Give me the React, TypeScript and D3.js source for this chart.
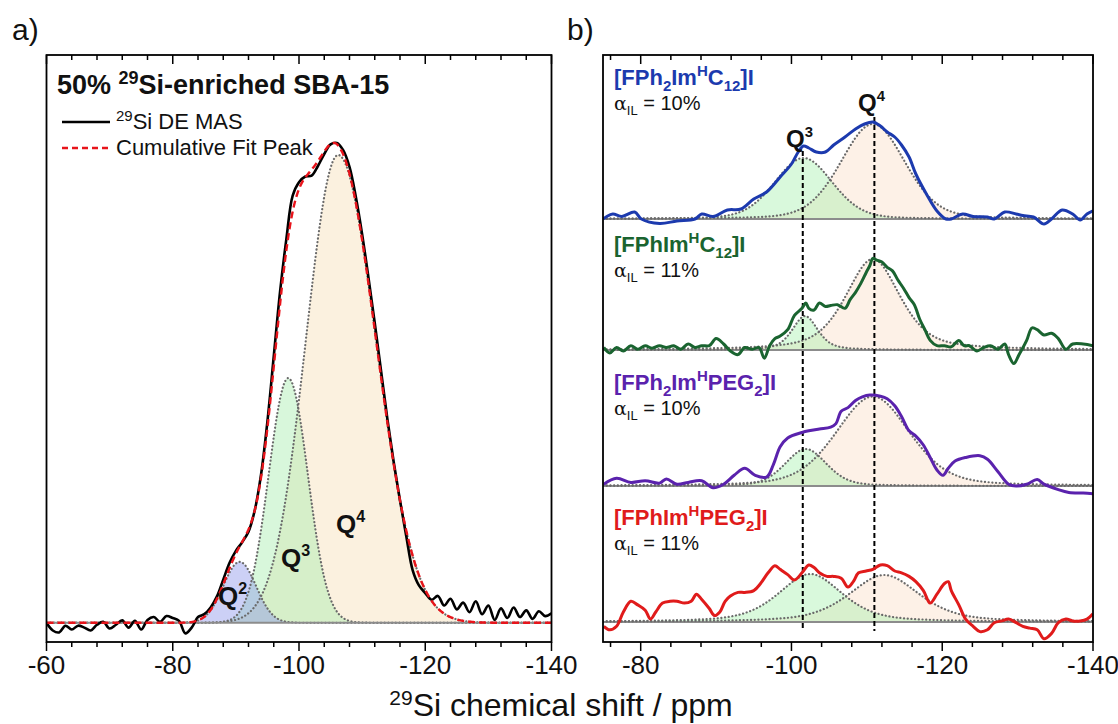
import React from 'react';
import * as d3 from 'd3';

const W = 1118;
const H = 724;
const FONT = "Arial, 'Liberation Sans', Helvetica, sans-serif";

// ---------- panel a data ----------
const shiftGridA = d3.range(-60, -140.5, -1);
const spectrumA = [
  0.0, -0.016, -0.02, -0.006, -0.014, -0.006, -0.01, -0.016, -0.004, 0.002,
  -0.012, -0.004, 0.005, -0.01, 0.004, -0.014, 0.006, 0.012, 0.002, 0.014,
  0.01, 0.004, -0.022, -0.01, 0.012, 0.018, 0.032, 0.055, 0.09, 0.125,
  0.15, 0.168, 0.19, 0.235, 0.31, 0.42, 0.555, 0.69, 0.8, 0.89,
  0.918, 0.93, 0.932, 0.952, 0.977, 0.997, 1.0, 0.985, 0.95, 0.888,
  0.81, 0.72, 0.625, 0.525, 0.425, 0.335, 0.255, 0.18, 0.11, 0.078,
  0.062, 0.048, 0.056, 0.036, 0.05, 0.028, 0.042, 0.022, 0.045, 0.018,
  0.036, 0.006, 0.03, 0.01, 0.032, 0.012, 0.026, 0.008, 0.024, 0.014, 0.02,
];
const peakNamesA = ['Q2', 'Q3', 'Q4'];
const peakCenterA = [-90.6, -98.3, -106.2];
const peakHeightA = [0.127, 0.51, 0.975];
const peakFwhmLeftA = [6.1, 7.3, 12.0];
const peakFwhmRightA = [6.1, 7.3, 14.1];
const peakFillA = ['#8f97ec', '#a8eeb0', '#f8e6c4'];
const peakFillOpA = [0.45, 0.45, 0.55];
const ticksLabelsA = [-60, -80, -100, -120, -140];

// ---------- panel b data ----------
const sampleLabelsB = ['FPh2ImHC12', 'FPhImHC12', 'FPh2ImHPEG2', 'FPhImHPEG2'];
const alphaB = ['10%', '11%', '10%', '11%'];
const colorsB = ['#1c3aae', '#1a6430', '#5a22ad', '#e01b1b'];
const offsetsB = [4.03, 2.72, 1.36, 0];

const blueShift = [-75, -75.4, -76.3, -77.5, -79.2, -80.1, -82.5, -84.8, -87.2, -88.1, -89.6, -91.5, -93.3, -95.0, -96.7, -98.5, -100.0, -100.9, -101.6, -102.3, -103.3, -104.5, -105.6, -107.1, -108.5, -109.7, -110.8, -111.8, -112.7, -113.7, -114.6, -115.6, -116.5, -117.9, -119.3, -120.5, -121.2, -122.7, -124.1, -126.0, -126.9, -128.3, -129.8, -130.7, -132.1, -133.5, -134.5, -135.9, -137.3, -138.3, -139.2, -140];
const blueInt = [0.0, 0.02, 0.05, 0.025, 0.07, 0.0, -0.045, -0.02, 0.0, 0.05, 0.025, 0.09, 0.1, 0.2, 0.27, 0.42, 0.55, 0.67, 0.73, 0.71, 0.67, 0.67, 0.74, 0.82, 0.9, 0.95, 0.97, 0.93, 0.87, 0.82, 0.74, 0.62, 0.45, 0.25, 0.08, 0.0, 0.0, 0.05, 0.025, 0.02, 0.0, 0.07, 0.05, 0.035, 0.02, -0.05, 0.0, 0.09, 0.05, -0.01, 0.05, 0.08];

const greenShift = [-75.1, -75.9, -76.8, -77.7, -78.7, -79.6, -80.6, -81.5, -82.5, -83.4, -84.4, -85.3, -86.3, -87.2, -88.1, -89.1, -90.0, -91.0, -91.9, -92.9, -93.8, -94.8, -95.7, -96.4, -97.1, -97.8, -98.5, -99.5, -100.4, -101.4, -101.9, -102.3, -103.0, -103.7, -104.5, -105.2, -106.1, -107.1, -107.8, -108.5, -109.2, -109.9, -110.4, -110.8, -111.3, -112.0, -112.7, -113.4, -114.1, -114.9, -115.6, -116.3, -117.0, -117.7, -118.4, -119.3, -120.3, -121.2, -122.2, -122.9, -123.6, -124.6, -125.5, -126.4, -127.4, -128.3, -128.8, -129.5, -130.2, -131.2, -131.9, -132.6, -133.5, -134.5, -135.4, -136.4, -137.3, -138.7, -140];
const greenInt = [0.025, -0.03, 0.025, -0.01, 0.043, 0.007, 0.043, 0.018, 0.043, 0.025, 0.043, 0.007, 0.06, 0.025, 0.043, 0.043, 0.114, 0.06, -0.01, -0.046, 0.025, 0.007, 0.025, -0.082, 0.043, 0.114, 0.139, 0.203, 0.346, 0.417, 0.47, 0.417, 0.4, 0.47, 0.435, 0.445, 0.453, 0.417, 0.506, 0.577, 0.666, 0.773, 0.845, 0.916, 0.898, 0.88, 0.827, 0.791, 0.702, 0.613, 0.524, 0.453, 0.31, 0.203, 0.096, 0.043, 0.043, 0.032, 0.096, 0.043, 0.043, -0.01, 0.025, 0.043, 0.007, 0.06, -0.046, -0.135, -0.046, 0.096, 0.22, 0.203, 0.15, 0.167, 0.114, 0.007, 0.06, 0.06, 0.043];

const purpleShift = [-75.1, -76.8, -78.7, -80.6, -82.5, -83.4, -84.8, -86.3, -88.1, -89.6, -91.0, -92.4, -93.8, -95.2, -96.7, -97.6, -98.5, -99.5, -101.4, -102.3, -103.7, -105.2, -105.9, -106.6, -107.5, -108.5, -109.4, -110.4, -111.8, -112.7, -113.7, -114.6, -115.6, -116.5, -117.5, -118.4, -119.3, -120.1, -120.8, -121.7, -123.1, -125.0, -126.0, -127.4, -128.8, -129.8, -131.2, -132.6, -133.5, -135.4, -136.8, -138.7, -140];
const purpleInt = [0.018, 0.078, 0.036, 0.053, 0.029, 0.071, 0.018, 0.036, 0.053, -0.018, 0.018, 0.107, 0.178, 0.107, 0.089, 0.214, 0.392, 0.481, 0.535, 0.552, 0.57, 0.588, 0.624, 0.748, 0.784, 0.855, 0.891, 0.909, 0.898, 0.873, 0.802, 0.695, 0.552, 0.499, 0.41, 0.285, 0.16, 0.107, 0.178, 0.249, 0.285, 0.303, 0.267, 0.143, 0.018, 0.0, 0.018, 0.064, 0.018, -0.036, -0.064, -0.071, -0.078];

const redShift = [-75.1, -75.9, -76.8, -77.7, -78.7, -79.6, -80.6, -81.3, -82.0, -82.9, -83.9, -84.8, -85.8, -86.7, -87.4, -88.1, -89.1, -89.8, -90.5, -91.2, -91.9, -92.9, -93.8, -95.0, -95.9, -96.9, -97.8, -98.5, -99.5, -100.4, -101.4, -102.3, -103.0, -103.7, -104.7, -105.6, -106.6, -107.5, -108.2, -108.9, -109.9, -110.8, -111.8, -112.7, -113.7, -114.6, -115.6, -116.5, -117.5, -118.4, -119.3, -120.3, -120.8, -121.2, -122.2, -123.1, -124.1, -125.0, -126.0, -126.9, -127.9, -128.8, -129.8, -130.7, -131.6, -132.6, -133.5, -134.5, -135.4, -136.4, -137.3, -138.3, -139.2, -140];
const redInt = [-0.043, -0.078, -0.043, 0.1, 0.207, 0.171, 0.118, 0.029, 0.1, 0.189, 0.207, 0.207, 0.189, 0.207, 0.278, 0.225, 0.135, 0.064, 0.1, 0.207, 0.26, 0.296, 0.296, 0.314, 0.385, 0.492, 0.563, 0.527, 0.474, 0.42, 0.492, 0.57, 0.545, 0.492, 0.456, 0.456, 0.438, 0.349, 0.403, 0.492, 0.51, 0.527, 0.57, 0.563, 0.51, 0.492, 0.456, 0.403, 0.314, 0.189, 0.278, 0.385, 0.403, 0.314, 0.171, 0.029, -0.043, -0.096, -0.078, -0.007, 0.011, 0.029, -0.007, -0.043, -0.061, -0.078, -0.168, -0.114, -0.007, 0.029, 0.011, 0.011, 0.029, 0.082];

const shiftsB = [blueShift, greenShift, purpleShift, redShift];
const intsB = [blueInt, greenInt, purpleInt, redInt];

const q3CenterB = [-101.6, -101.8, -101.9, -102.5];
const q3HeightB = [0.61, 0.34, 0.37, 0.48];
const q3FwhmB = [9, 4, 6.5, 10];
const q4CenterB = [-110.8, -110.8, -110.8, -112.3];
const q4HeightB = [0.95, 0.91, 0.895, 0.47];
const q4FwhmB = [10, 8.5, 11.5, 11];
const lorentzFracB = [0.2, 0.5, 0.3, 0.5];
const refLinesB = [-101.5, -111];
const ticksLabelsB = [-80, -100, -120, -140];

// ---------- geometry ----------
const A = { x0: 46.5, x1: 551.5, y0: 55, y1: 642 };
const B = { x0: 603, x1: 1093, y0: 55, y1: 642 };

const xA = d3.scaleLinear().domain([-60, -140]).range([A.x0, A.x1]);
const yA = d3.scaleLinear().domain([-0.04, 1.1833]).range([A.y1, A.y0]);
const xB = d3.scaleLinear().domain([-75, -140]).range([B.x0, B.x1]);
const yB = d3.scaleLinear().domain([-0.2, 5.67]).range([B.y1, B.y0]);

const LN2x4 = 4 * Math.log(2);
function splitGauss(p: number, c: number, h: number, fl: number, fr: number) {
  const f = p > c ? fl : fr;
  const d = (p - c) / f;
  return h * Math.exp(-LN2x4 * d * d);
}
function pvoigt(p: number, c: number, h: number, fw: number, eta: number) {
  const d = (p - c) / fw;
  const g = Math.exp(-LN2x4 * d * d);
  const l = 1 / (1 + 4 * d * d);
  return h * (eta * l + (1 - eta) * g);
}

const fineA = d3.range(-60, -140.01, -0.2);
const fineB = d3.range(-75, -140.01, -0.2);

function Ticks({ x, y0, y1, values, majors }: any) {
  return (
    <g stroke="#000" strokeWidth={1.5}>
      {values.map((v: number) => {
        const major = majors.includes(v);
        const len = major ? 9 : 5;
        const px = x(v);
        return (
          <g key={v}>
            <line x1={px} x2={px} y1={y1} y2={y1 + len} />
            <line x1={px} x2={px} y1={y0} y2={y0 + len} />
          </g>
        );
      })}
    </g>
  );
}

function SampleLabel({ name, x, y, color }: any) {
  const parts: Record<string, any[]> = {
    FPh2ImHC12: [['[FPh'], ['2', 'sub'], ['Im'], ['H', 'sup'], ['C'], ['12', 'sub'], [']I']],
    FPhImHC12: [['[FPhIm'], ['H', 'sup'], ['C'], ['12', 'sub'], [']I']],
    FPh2ImHPEG2: [['[FPh'], ['2', 'sub'], ['Im'], ['H', 'sup'], ['PEG'], ['2', 'sub'], [']I']],
    FPhImHPEG2: [['[FPhIm'], ['H', 'sup'], ['PEG'], ['2', 'sub'], [']I']],
  };
  let cur = 0;
  const spans = parts[name].map((p: any[], i: number) => {
    const target = p[1] === 'sub' ? 6 : p[1] === 'sup' ? -9 : 0;
    const dy = target - cur;
    cur = target;
    return (
      <tspan key={i} dy={dy} fontSize={p[1] ? 15 : 22}>
        {p[0]}
      </tspan>
    );
  });
  return (
    <text x={x} y={y} fill={color} fontWeight="bold" fontFamily={FONT}>
      {spans}
    </text>
  );
}

function AlphaLabel({ value, x, y }: any) {
  return (
    <text x={x} y={y} fontFamily={FONT} fontSize={20} fill="#111">
      <tspan fontFamily="'DejaVu Serif', serif" fontSize={19}>α</tspan>
      <tspan dy={5} fontSize={13}>IL</tspan>
      <tspan dy={-5}>{` = ${value}`}</tspan>
    </text>
  );
}

function QLabel({ n, x, y, size }: any) {
  return (
    <text x={x} y={y} fontFamily={FONT} fontWeight="bold" fontSize={size} fill="#111">
      Q<tspan dy={-size * 0.42} fontSize={size * 0.62}>{n}</tspan>
    </text>
  );
}

export default function App() {
  const compsA = peakNamesA.map((_, i) =>
    fineA.map((p) => [p, splitGauss(p, peakCenterA[i], peakHeightA[i], peakFwhmLeftA[i], peakFwhmRightA[i])])
  );
  const cumA = fineA.map((p, k) => [p, compsA.reduce((s, c) => s + (c[k][1] as number), 0)]);
  const lineA = d3.line<any>().x((d) => xA(d[0])).y((d) => yA(d[1]));
  const areaA = d3.area<any>().x((d) => xA(d[0])).y0(yA(0)).y1((d) => yA(d[1]));
  const specLineA = d3
    .line<number>()
    .x((_, i) => xA(shiftGridA[i]))
    .y((d) => yA(d))
    .curve(d3.curveCatmullRom.alpha(0.5));

  const ticksA = d3.range(-60, -140.5, -4);
  const ticksB = d3.range(-76, -140.5, -4);

  const dotStyle = { stroke: '#6a6a6a', strokeWidth: 2.2, strokeDasharray: '0.1 3.6', strokeLinecap: 'round' as const, fill: 'none' };

  return (
    <svg width={W} height={H} style={{ position: 'absolute', left: 0, top: 0, background: '#fff' }} fontFamily={FONT}>
      <defs>
        <clipPath id="clipA">
          <rect x={A.x0} y={A.y0} width={A.x1 - A.x0} height={A.y1 - A.y0} />
        </clipPath>
        <clipPath id="clipB">
          <rect x={B.x0} y={B.y0} width={B.x1 - B.x0} height={B.y1 - B.y0} />
        </clipPath>
      </defs>
      <rect x={0} y={0} width={W} height={H} fill="#fff" />

      {/* ---------------- panel a ---------------- */}
      <g clipPath="url(#clipA)">
        {[2, 1, 0].map((i) => (
          <path key={'fa' + i} d={areaA(compsA[i]) || ''} fill={peakFillA[i]} fillOpacity={peakFillOpA[i]} />
        ))}
        {[0, 1, 2].map((i) => (
          <path key={'la' + i} d={lineA(compsA[i]) || ''} {...dotStyle} />
        ))}
        <line x1={A.x0} x2={A.x1} y1={yA(0)} y2={yA(0)} stroke="#8c8c8c" strokeWidth={2} />
        <path d={specLineA(spectrumA) || ''} fill="none" stroke="#000" strokeWidth={2.6} strokeLinejoin="round" />
        <path d={lineA(cumA) || ''} fill="none" stroke="#e8141b" strokeWidth={2.4} strokeDasharray="7 4" />
      </g>
      <rect x={A.x0} y={A.y0} width={A.x1 - A.x0} height={A.y1 - A.y0} fill="none" stroke="#000" strokeWidth={1.8} />
      <Ticks x={xA} y0={A.y0} y1={A.y1} values={ticksA} majors={ticksLabelsA} />
      {ticksLabelsA.map((v) => (
        <text key={v} x={xA(v)} y={674} textAnchor="middle" fontSize={26} fill="#111">
          {v}
        </text>
      ))}
      <text x={57} y={94} fontSize={27} fontWeight="bold" fill="#111">
        50%{' '}
        <tspan dy={-10} fontSize={18}>29</tspan>
        <tspan dy={10}>Si-enriched SBA-15</tspan>
      </text>
      <line x1={62} x2={110} y1={122} y2={122} stroke="#000" strokeWidth={2.6} />
      <text x={116} y={129} fontSize={22} fill="#111">
        <tspan dy={-8} fontSize={15}>29</tspan>
        <tspan dy={8}>Si DE MAS</tspan>
      </text>
      <line x1={62} x2={110} y1={148} y2={148} stroke="#e8141b" strokeWidth={2.4} strokeDasharray="6 4" />
      <text x={116} y={155} fontSize={22} fill="#111">
        Cumulative Fit Peak
      </text>
      <QLabel n="2" x={218} y={605} size={26} />
      <QLabel n="3" x={281} y={567} size={26} />
      <QLabel n="4" x={336} y={533} size={26} />

      {/* ---------------- panel b ---------------- */}
      <g clipPath="url(#clipB)">
        {sampleLabelsB.map((s, i) => {
          const off = offsetsB[i];
          const q3 = fineB.map((p) => [p, pvoigt(p, q3CenterB[i], q3HeightB[i], q3FwhmB[i], lorentzFracB[i])]);
          const q4 = fineB.map((p) => [p, pvoigt(p, q4CenterB[i], q4HeightB[i], q4FwhmB[i], lorentzFracB[i])]);
          const ar = d3.area<any>().x((d) => xB(d[0])).y0(yB(off)).y1((d) => yB(off + d[1]));
          const ln = d3.line<any>().x((d) => xB(d[0])).y((d) => yB(off + d[1]));
          return (
            <g key={'fb' + s}>
              <path d={ar(q4) || ''} fill="#fbdcc4" fillOpacity={0.4} />
              <path d={ar(q3) || ''} fill="#9ff0a8" fillOpacity={0.4} />
              <line x1={B.x0} x2={B.x1} y1={yB(off)} y2={yB(off)} stroke="#8c8c8c" strokeWidth={2} />
              <path d={ln(q3) || ''} {...dotStyle} />
              <path d={ln(q4) || ''} {...dotStyle} />
            </g>
          );
        })}
        {refLinesB.map((v, i) => (
          <line key={'rl' + v} x1={xB(v)} x2={xB(v)} y1={i === 0 ? 151 : 117} y2={631} stroke="#000" strokeWidth={2} strokeDasharray="5 3" />
        ))}
        {sampleLabelsB.map((s, i) => {
          const off = offsetsB[i];
          const ln = d3
            .line<number>()
            .x((_, k) => xB(shiftsB[i][k]))
            .y((d) => yB(off + d))
            .curve(d3.curveCatmullRom.alpha(0.5));
          return <path key={'sb' + s} d={ln(intsB[i]) || ''} fill="none" stroke={colorsB[i]} strokeWidth={3} strokeLinejoin="round" />;
        })}
      </g>
      <rect x={B.x0} y={B.y0} width={B.x1 - B.x0} height={B.y1 - B.y0} fill="none" stroke="#000" strokeWidth={1.8} />
      <Ticks x={xB} y0={B.y0} y1={B.y1} values={ticksB} majors={ticksLabelsB} />
      {ticksLabelsB.map((v) => (
        <text key={v} x={xB(v)} y={674} textAnchor="middle" fontSize={26} fill="#111">
          {v}
        </text>
      ))}
      {sampleLabelsB.map((s, i) => {
        const base = [85, 252, 390, 525][i];
        return (
          <g key={'lb' + s}>
            <SampleLabel name={s} x={614} y={base} color={colorsB[i]} />
            <AlphaLabel value={alphaB[i]} x={614} y={base + 25} />
          </g>
        );
      })}
      <QLabel n="3" x={786} y={147} size={24} />
      <QLabel n="4" x={858} y={111} size={24} />

      {/* shared labels */}
      <text x={12} y={40} fontSize={30} fill="#111">a)</text>
      <text x={567} y={40} fontSize={30} fill="#111">b)</text>
      <text x={561} y={716} textAnchor="middle" fontSize={32} fill="#111">
        <tspan dy={-11} fontSize={21}>29</tspan>
        <tspan dy={11}>Si chemical shift / ppm</tspan>
      </text>
    </svg>
  );
}
